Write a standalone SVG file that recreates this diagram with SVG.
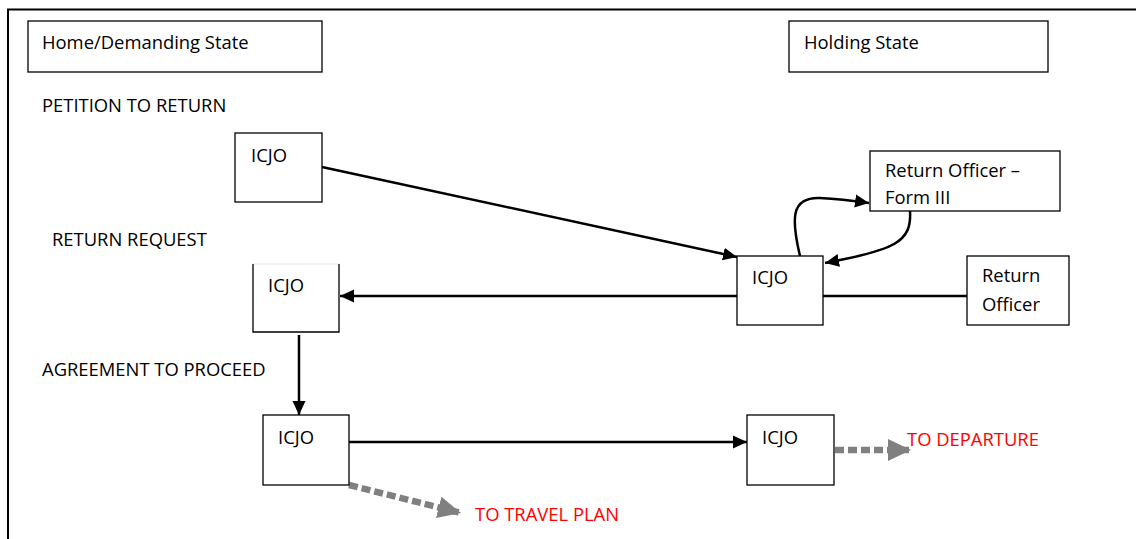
<svg xmlns="http://www.w3.org/2000/svg" width="1136" height="539" viewBox="0 0 1136 539">
  <style>
    .box { fill: #ffffff; stroke: #000000; stroke-width: 1.3; }
    .lbl { font-family: "Open Sans", "Liberation Sans", sans-serif; font-size: 18.4px; fill: #000000; }
    .red { fill: #ff0000; }
    .conn { fill: none; stroke: #000000; stroke-width: 2.5; }
    .dash { fill: none; stroke: #808080; stroke-width: 6.5; stroke-dasharray: 9 4; }
  </style>
  <defs>
    <marker id="arrow" markerUnits="userSpaceOnUse" markerWidth="16" markerHeight="14" refX="14" refY="7" orient="auto">
      <path d="M0,0.5 L14,7 L0,13.5 z" fill="#000000"/>
    </marker>
    <marker id="grayArrow" markerUnits="userSpaceOnUse" markerWidth="24" markerHeight="22" refX="23" refY="11" orient="auto">
      <path d="M0,0 L23,11 L0,22 z" fill="#808080"/>
    </marker>
  </defs>

  <rect width="1136" height="539" fill="#ffffff"/>

  <!-- outer frame -->
  <path d="M8,539 L8,9.5 L1136,9.5" fill="none" stroke="#000000" stroke-width="2"/>

  <!-- side headers -->
  <g id="home-state">
    <rect class="box" x="28" y="21" width="294" height="51"/>
    <text class="lbl" x="42" y="49">Home/Demanding State</text>
  </g>
  <g id="holding-state">
    <rect class="box" x="789" y="21" width="259" height="51"/>
    <text class="lbl" x="804" y="49">Holding State</text>
  </g>

  <!-- stage captions -->
  <g id="stage-labels">
    <text class="lbl" x="42" y="112">PETITION TO RETURN</text>
    <text class="lbl" x="52" y="246">RETURN REQUEST</text>
    <text class="lbl" x="42" y="376">AGREEMENT TO PROCEED</text>
  </g>

  <!-- connectors -->
  <g id="connectors">
    <line class="conn" x1="322" y1="167" x2="737" y2="257" marker-end="url(#arrow)"/>
    <path class="conn" d="M800,256 C791,218 791,197 820,198 C840,199 855,201 869,203" marker-end="url(#arrow)"/>
    <path class="conn" d="M910,211 C912,242 895,250 825,263" marker-end="url(#arrow)"/>
    <line class="conn" x1="737" y1="296" x2="340" y2="296" marker-end="url(#arrow)"/>
    <line class="conn" x1="823" y1="296" x2="967" y2="296"/>
    <line class="conn" x1="299" y1="335" x2="299" y2="415" marker-end="url(#arrow)"/>
    <line class="conn" x1="349" y1="442" x2="747" y2="442" marker-end="url(#arrow)"/>
    <line class="dash" x1="835" y1="450" x2="911" y2="450" marker-end="url(#grayArrow)"/>
    <line class="dash" x1="349" y1="485" x2="461" y2="513" marker-end="url(#grayArrow)"/>
  </g>

  <!-- nodes -->
  <g id="icjo-petition">
    <rect class="box" x="235" y="133" width="87" height="69"/>
    <text class="lbl" x="251" y="162">ICJO</text>
  </g>
  <g id="icjo-holding">
    <rect class="box" x="737" y="256" width="86" height="69"/>
    <text class="lbl" x="752" y="284">ICJO</text>
  </g>
  <g id="return-officer-form">
    <rect class="box" x="870" y="151" width="190" height="60"/>
    <text class="lbl" x="885" y="177">Return Officer –</text>
    <text class="lbl" x="885" y="204">Form III</text>
  </g>
  <g id="return-officer">
    <rect class="box" x="967" y="256" width="102" height="69"/>
    <text class="lbl" x="982" y="282">Return</text>
    <text class="lbl" x="982" y="311">Officer</text>
  </g>
  <g id="icjo-request">
    <rect x="253" y="264" width="86" height="68" fill="#ffffff" stroke="none"/>
    <line x1="253" y1="264" x2="339" y2="264" stroke="#e6e6e6" stroke-width="1"/>
    <path d="M253,264 L253,332 L339,332 L339,264" fill="none" stroke="#000000" stroke-width="1.3"/>
    <text class="lbl" x="268" y="292">ICJO</text>
  </g>
  <g id="icjo-agreement">
    <rect class="box" x="263" y="415" width="86" height="70"/>
    <text class="lbl" x="278" y="444">ICJO</text>
  </g>
  <g id="icjo-departure">
    <rect class="box" x="747" y="415" width="87" height="70"/>
    <text class="lbl" x="762" y="444">ICJO</text>
  </g>

  <!-- onward destinations -->
  <g id="to-departure">
    <text class="lbl red" x="907" y="446">TO DEPARTURE</text>
  </g>
  <g id="to-travel-plan">
    <text class="lbl red" x="475" y="521">TO TRAVEL PLAN</text>
  </g>
</svg>
